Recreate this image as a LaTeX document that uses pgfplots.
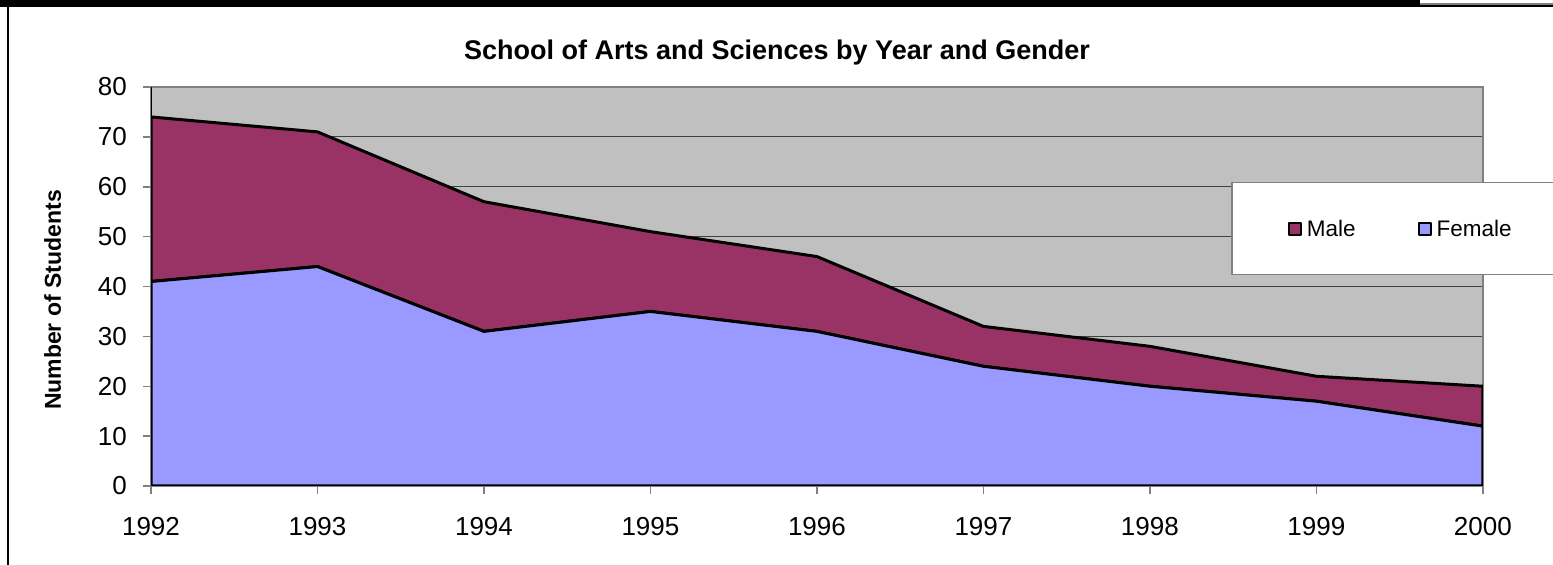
\documentclass[border=0pt]{standalone}
\usepackage{pgfplots}
\pgfplotsset{compat=1.18}
\usepackage{fontspec}
\setmainfont{Liberation Sans}
\definecolor{female}{HTML}{9999FF}
\definecolor{male}{HTML}{993366}
\definecolor{plotbg}{HTML}{C0C0C0}
\definecolor{bordergray}{HTML}{808080}
\definecolor{gridgray}{HTML}{404040}

\begin{document}
\begin{tikzpicture}
\useasboundingbox (0,0) rectangle (1553bp,565bp);
\clip (0,0) rectangle (1553bp,565bp);
% frame decorations
\fill[black] (0,558bp) rectangle (1420bp,565bp);
\fill[bordergray] (1420bp,560bp) rectangle (1553bp,561.5bp);
\fill[black] (1420bp,558bp) rectangle (1553bp,560bp);
\fill[black] (6.5bp,0) rectangle (8.5bp,558bp);
\begin{axis}[
  at={(151bp,79bp)}, anchor=south west,
  scale only axis, width=1332bp, height=399bp,
  xmin=1992, xmax=2000, ymin=0, ymax=80,
  enlarge x limits=false,
  xtick={1992,1993,...,2000},
  ytick={0,10,...,80},
  xtick pos=left, ytick pos=left,
  tick align=outside,
  major tick length=8bp,
  tick style={draw=bordergray, line width=1.5bp},
  axis line style={draw=bordergray, line width=1.5bp},
  axis background/.style={fill=plotbg},
  ymajorgrids,
  major grid style={draw=gridgray, line width=1bp},
  /pgf/number format/assume math mode=true,
  /pgf/number format/1000 sep={},
  ticklabel style={font=\fontsize{26bp}{30bp}\selectfont},
  yticklabel style={anchor=east, inner sep=0pt, xshift=-16bp},
  xticklabel style={anchor=north, inner sep=0pt, yshift=-23bp},
  ylabel={Number of Students},
  ylabel style={at={(axis description cs:-0.0739,0.466)}, anchor=center, font=\fontsize{23bp}{27bp}\selectfont\bfseries},
  title={School of Arts and Sciences by Year and Gender},
  title style={at={(axis description cs:0.470,1.072)}, anchor=center, font=\fontsize{27bp}{31bp}\selectfont\bfseries},
  stack plots=y,
  reverse legend,
  legend columns=2,
  legend style={at={(axis description cs:0.811,0.762)}, anchor=north west,
    draw=bordergray, line width=1.5bp, fill=white,
    inner xsep=56bp, inner ysep=35bp,
    font=\fontsize{22.5bp}{26bp}\selectfont,
    nodes={inner sep=2bp},
    /tikz/every odd column/.append style={column sep=3bp},
    /tikz/every even column/.append style={column sep=60bp}},
  legend image code/.code={\draw[#1, draw=black, line width=2bp] (0bp,-6bp) rectangle (12bp,6bp);},
]
\addplot[fill=female, draw=black, line width=3bp, line join=round] coordinates {
(1992,41) (1993,44) (1994,31) (1995,35) (1996,31) (1997,24) (1998,20) (1999,17) (2000,12)
} \closedcycle;
\addlegendentry{Female}
\addplot[fill=male, draw=black, line width=3bp, line join=round] coordinates {
(1992,33) (1993,27) (1994,26) (1995,16) (1996,15) (1997,8) (1998,8) (1999,5) (2000,8)
} \closedcycle;
\addlegendentry{Male}
\draw[black, line width=2.5bp] (rel axis cs:0,1) -- (rel axis cs:0,0) -- (rel axis cs:1,0);
\end{axis}
\end{tikzpicture}
\end{document}
